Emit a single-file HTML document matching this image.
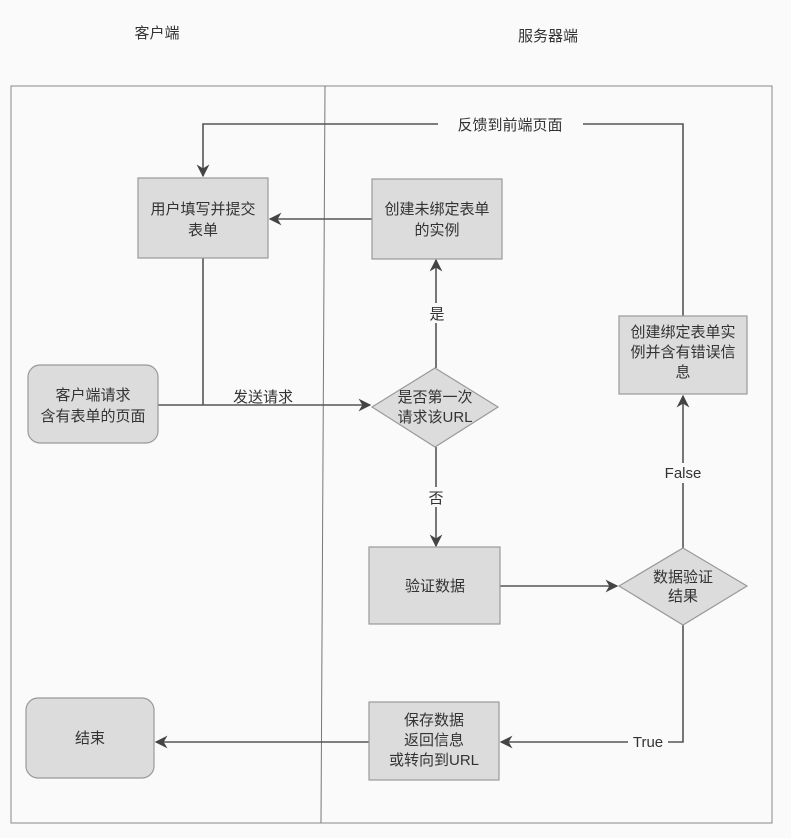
<!DOCTYPE html>
<html><head><meta charset="utf-8"><style>
html,body{margin:0;padding:0;background:#fafafa;}
svg{display:block}
text{font-family:"Liberation Sans","Noto Sans CJK SC",sans-serif;fill:#333;font-size:15px;text-anchor:middle}
</style></head><body>
<svg width="791" height="838" viewBox="0 0 791 838" xmlns="http://www.w3.org/2000/svg">
<defs>
<marker id="a" viewBox="0 0 10 10" refX="9" refY="5" markerWidth="8" markerHeight="8" orient="auto"><path d="M0,0 L10,5 L0,10 L3,5 z" fill="#444"/></marker>
</defs>
<rect width="791" height="838" fill="#fafafa"/>
<text x="157" y="38" font-size="14">客户端</text>
<text x="548" y="41" font-size="14">服务器端</text>
<rect x="11" y="86" width="761" height="737" fill="none" stroke="#888" stroke-width="1"/>
<line x1="325" y1="86" x2="321" y2="823" stroke="#777" stroke-width="1"/>
<g stroke="#555" stroke-width="1.6" fill="none">
<path d="M683,320 V124 H583"/>
<path d="M438,124 H203 V176" marker-end="url(#a)"/>
<path d="M372,219 H270" marker-end="url(#a)"/>
<path d="M436,368 V260" marker-end="url(#a)"/>
<path d="M203,258 V405"/>
<path d="M158,405 H370" marker-end="url(#a)"/>
<path d="M436,447 V546" marker-end="url(#a)"/>
<path d="M500,586 H617" marker-end="url(#a)"/>
<path d="M683,548 V396" marker-end="url(#a)"/>
<path d="M683,625 V742 H668"/>
<path d="M628,742 H501" marker-end="url(#a)"/>
<path d="M369,742 H156" marker-end="url(#a)"/>
</g>
<g fill="#dcdcdc" stroke="#999" stroke-width="1.2">
<rect x="138" y="178" width="130" height="80"/>
<rect x="372" y="179" width="130" height="80"/>
<rect x="28" y="365" width="130" height="78" rx="12"/>
<polygon points="435,368 498,407 435,447 372,407"/>
<rect x="619" y="316" width="128" height="78"/>
<rect x="369" y="547" width="131" height="77"/>
<polygon points="683,548 747,586 683,625 619,586"/>
<rect x="369" y="702" width="130" height="78"/>
<rect x="26" y="698" width="128" height="80" rx="12"/>
</g>
<rect x="440" y="114" width="141" height="20" fill="#fafafa"/>
<text x="510" y="130">反馈到前端页面</text>
<text x="203" y="214">用户填写并提交</text>
<text x="203" y="235">表单</text>
<text x="437" y="214">创建未绑定表单</text>
<text x="437" y="235">的实例</text>
<rect x="428" y="303" width="18" height="20" fill="#fafafa"/>
<text x="437" y="319">是</text>
<text x="93" y="400">客户端请求</text>
<text x="93" y="421">含有表单的页面</text>
<text x="263" y="402">发送请求</text>
<text x="435" y="402" font-size="14">是否第一次</text>
<text x="435" y="422" font-size="14">请求该URL</text>
<text x="683" y="337" font-size="14">创建绑定表单实</text>
<text x="683" y="357" font-size="14">例并含有错误信</text>
<text x="683" y="377" font-size="14">息</text>
<rect x="665" y="463" width="36" height="20" fill="#fafafa"/>
<text x="683" y="478" font-size="14">False</text>
<rect x="427" y="487" width="18" height="20" fill="#fafafa"/>
<text x="436" y="503">否</text>
<text x="435" y="591">验证数据</text>
<text x="683" y="582" font-size="14">数据验证</text>
<text x="683" y="601" font-size="14">结果</text>
<text x="648" y="747" font-size="14">True</text>
<text x="434" y="725" font-size="14">保存数据</text>
<text x="434" y="745" font-size="14">返回信息</text>
<text x="434" y="765" font-size="14">或转向到URL</text>
<text x="90" y="743">结束</text>
</svg>
</body></html>
